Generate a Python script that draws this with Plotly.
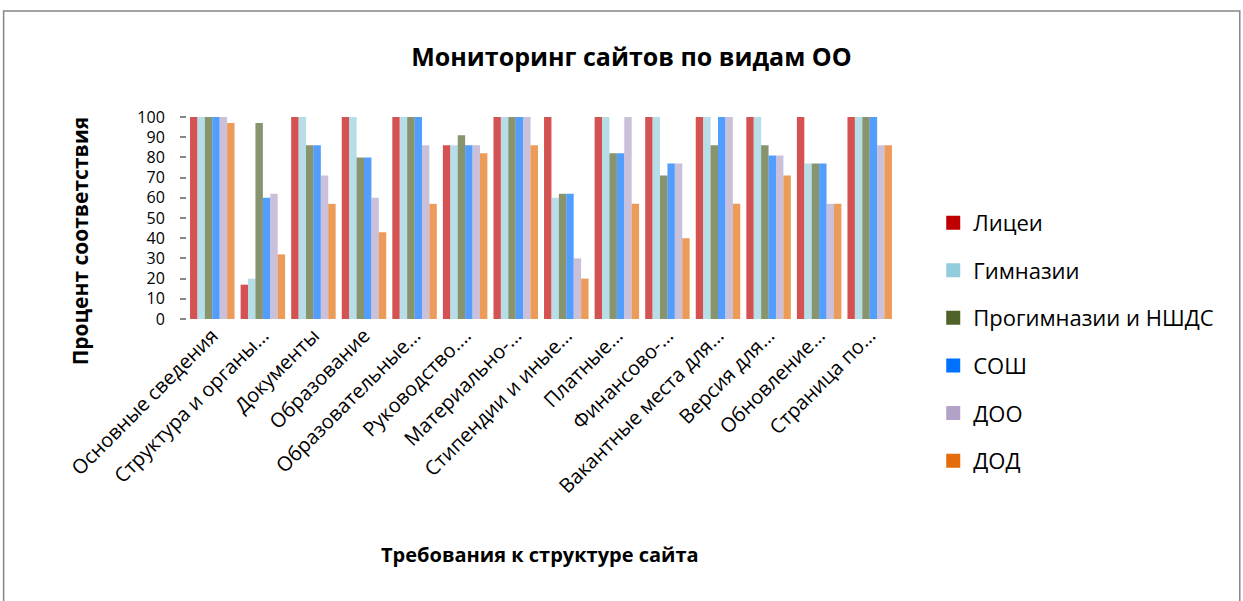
import plotly.graph_objects as go

categories = ["Основные сведения", "Структура и органы…", "Документы", "Образование",
              "Образовательные…", "Руководство.…", "Материально-…", "Стипендии и иные…",
              "Платные…", "Финансово-…", "Вакантные места для…", "Версия для…",
              "Обновление…", "Страница по…"]

series_names = ["Лицеи", "Гимназии", "Прогимназии и НШДС", "СОШ", "ДОО", "ДОД"]

licei      = [100, 17, 100, 100, 100, 86, 100, 100, 100, 100, 100, 100, 100, 100]
gimnazii   = [100, 20, 100, 100, 100, 86, 100, 60, 100, 100, 100, 100, 77, 100]
progimn    = [100, 97, 86, 80, 100, 91, 100, 62, 82, 71, 86, 86, 77, 100]
sosh       = [100, 60, 86, 80, 100, 86, 100, 62, 82, 77, 100, 81, 77, 100]
doo        = [100, 62, 71, 60, 86, 86, 100, 30, 100, 77, 100, 81, 57, 86]
dod        = [97, 32, 57, 43, 57, 82, 86, 20, 57, 40, 57, 71, 57, 86]

y_ticks = [0, 10, 20, 30, 40, 50, 60, 70, 80, 90, 100]

values = [licei, gimnazii, progimn, sosh, doo, dod]
colors = ["#C00000", "#93CDDD", "#4F6228", "#0070FF", "#B3A2C7", "#E46C0A"]

FONT = "Open Sans"

fig = go.Figure()
for name, vals, col in zip(series_names, values, colors):
    fig.add_trace(go.Bar(x=categories, y=vals, name=name,
                         marker=dict(color=col, opacity=0.68, line=dict(width=0)),
                         showlegend=False))
for i, (name, col) in enumerate(zip(series_names, colors)):
    fig.add_trace(go.Scatter(x=[None], y=[None], mode="markers", name=name,
                             legendgroup="g%d" % i,
                             marker=dict(symbol="square", size=14, color=col)))

fig.update_layout(
    width=1243, height=601,
    margin=dict(l=187, r=348, t=117, b=282),
    paper_bgcolor="white", plot_bgcolor="white",
    barmode="group", bargap=0.12, bargroupgap=0,
    font=dict(family=FONT, color="black"),
    title=dict(text="<b>Мониторинг сайтов по видам ОО</b>", x=0.508, xanchor="center",
               y=0.905, yanchor="middle", font=dict(size=25, family=FONT)),
    legend=dict(x=1.054, xanchor="left", y=0.58, yanchor="top", tracegroupgap=16,
                maxheight=560, font=dict(size=22, family=FONT), bgcolor="rgba(0,0,0,0)"),
    xaxis=dict(showgrid=False, showline=False, ticks="", tickangle=-45,
               tickfont=dict(size=20, family=FONT)),
    yaxis=dict(range=[0, 100], tickvals=y_ticks, showgrid=False, showline=False,
               ticks="outside", ticklen=6, tickcolor="#868686", tickwidth=2,
               ticklabelstandoff=12,
               tickfont=dict(size=16, family=FONT), zeroline=False),
    annotations=[
        dict(text="<b>Процент соответствия</b>", xref="paper", yref="paper",
             x=-0.151, y=0.385, textangle=-90, showarrow=False,
             xanchor="center", yanchor="middle", font=dict(size=21, family=FONT)),
        dict(text="<b>Требования к структуре сайта</b>", xref="paper", yref="paper",
             x=0.499, y=-1.165, showarrow=False,
             xanchor="center", yanchor="middle", font=dict(size=20, family=FONT)),
    ],
    shapes=[dict(type="rect", xref="paper", yref="paper", x0=-0.259, x1=1.487,
                 y0=-1.43, y1=1.525, line=dict(color="#868686", width=1.5))],
)

fig.write_html("out.html", config={"displayModeBar": False},
               post_script="document.body.style.margin='0';")
